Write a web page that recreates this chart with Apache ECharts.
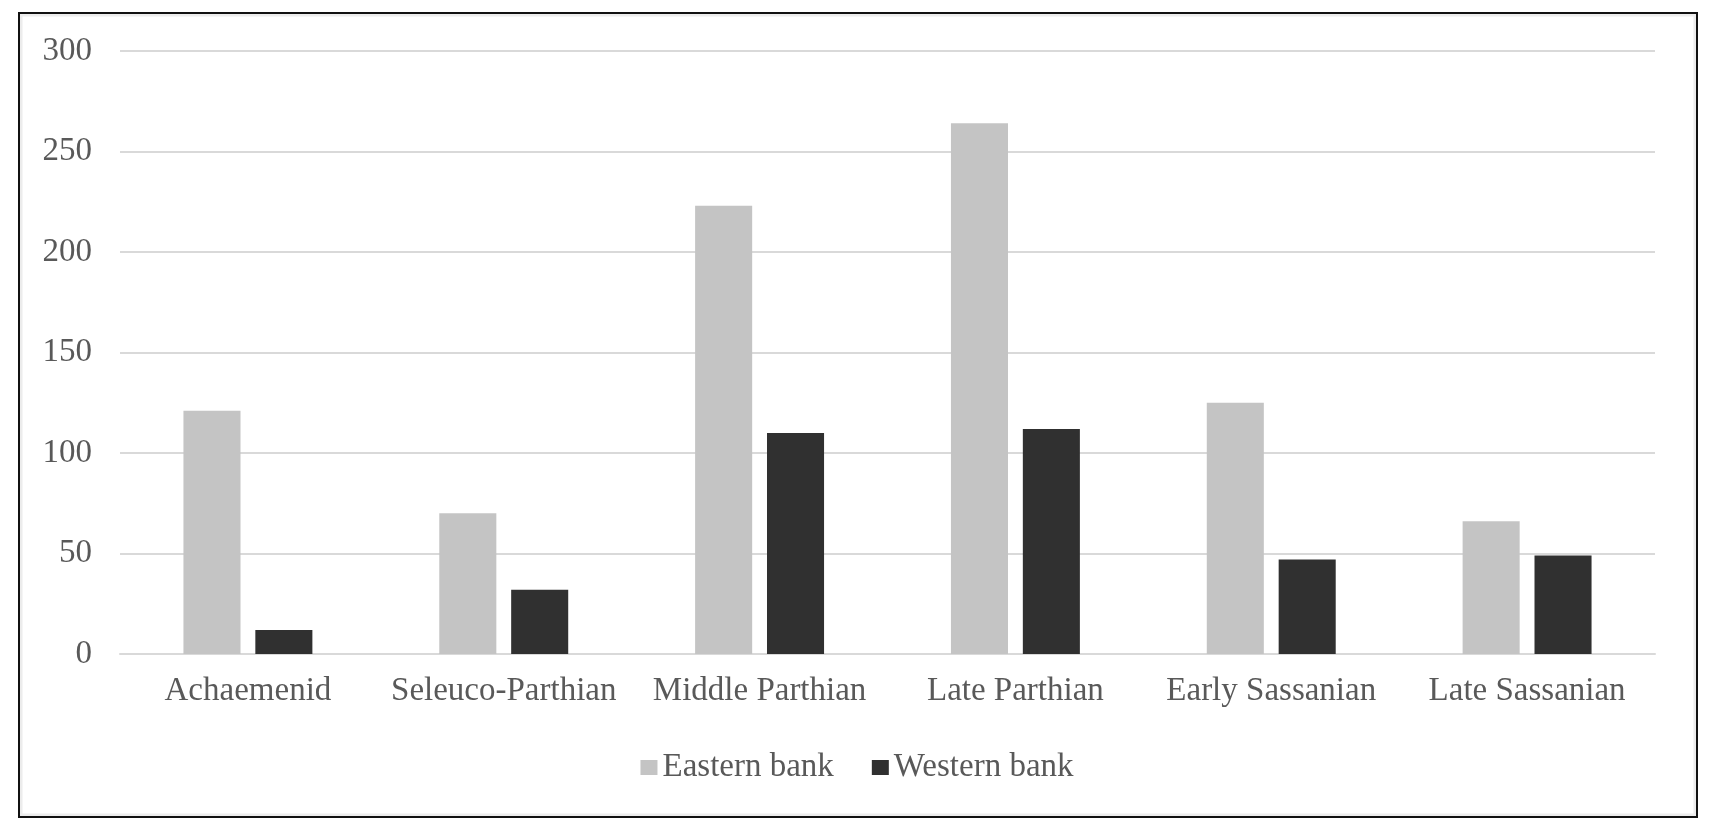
<!DOCTYPE html>
<html>
<head>
<meta charset="utf-8">
<script src="https://cdn.jsdelivr.net/npm/echarts@6/dist/echarts.min.js"></script>
<style>
html,body{margin:0;padding:0;background:#fff;}
#chart{width:1714px;height:820px;}
</style>
</head>
<body>
<div id="chart"></div>
<script>
const categories = ['Achaemenid', 'Seleuco-Parthian', 'Middle Parthian', 'Late Parthian', 'Early Sassanian', 'Late Sassanian'];
const easternBank = [121, 70, 223, 264, 125, 66];
const westernBank = [12, 32, 110, 112, 47, 49];
const seriesNames = ['Eastern bank', 'Western bank'];
const yTicks = { min: 0, max: 300, interval: 50 };

const FONT = '"Liberation Serif", "Times New Roman", serif';
const TEXT = '#595959';

const chart = echarts.init(document.getElementById('chart'), null, { renderer: 'canvas' });
chart.setOption({
  backgroundColor: '#ffffff',
  animation: false,
  graphic: [
    { type: 'rect', shape: { x: 21, y: 15, width: 1674, height: 800 }, style: { fill: 'none', stroke: '#ececec', lineWidth: 3 }, silent: true },
    { type: 'rect', shape: { x: 19, y: 13, width: 1678, height: 804 }, style: { fill: 'none', stroke: '#111', lineWidth: 2 }, silent: true }
  ],
  grid: { left: 120, right: 59, top: 51, bottom: 166 },
  legend: {
    data: seriesNames,
    left: 'center',
    top: 746,
    icon: 'rect',
    itemWidth: 17,
    itemHeight: 15,
    itemGap: 38,
    textStyle: { color: TEXT, fontFamily: FONT, fontSize: 33 }
  },
  xAxis: {
    type: 'category',
    data: categories,
    axisLine: { show: true, lineStyle: { color: '#d9d9d9', width: 2 } },
    axisTick: { show: false },
    axisLabel: { interval: 0, color: TEXT, fontFamily: FONT, fontSize: 33, margin: 21 }
  },
  yAxis: {
    type: 'value',
    min: yTicks.min,
    max: yTicks.max,
    interval: yTicks.interval,
    axisLine: { show: false },
    axisTick: { show: false },
    splitLine: { show: true, lineStyle: { color: '#d9d9d9', width: 2 } },
    axisLabel: { color: TEXT, fontFamily: FONT, fontSize: 33, margin: 28 }
  },
  series: [
    { name: seriesNames[0], type: 'bar', data: easternBank, barWidth: '22.3%', barGap: '26%', itemStyle: { color: '#c4c4c4' } },
    { name: seriesNames[1], type: 'bar', data: westernBank, barWidth: '22.3%', barGap: '26%', itemStyle: { color: '#303030' } }
  ]
});
</script>
</body>
</html>
